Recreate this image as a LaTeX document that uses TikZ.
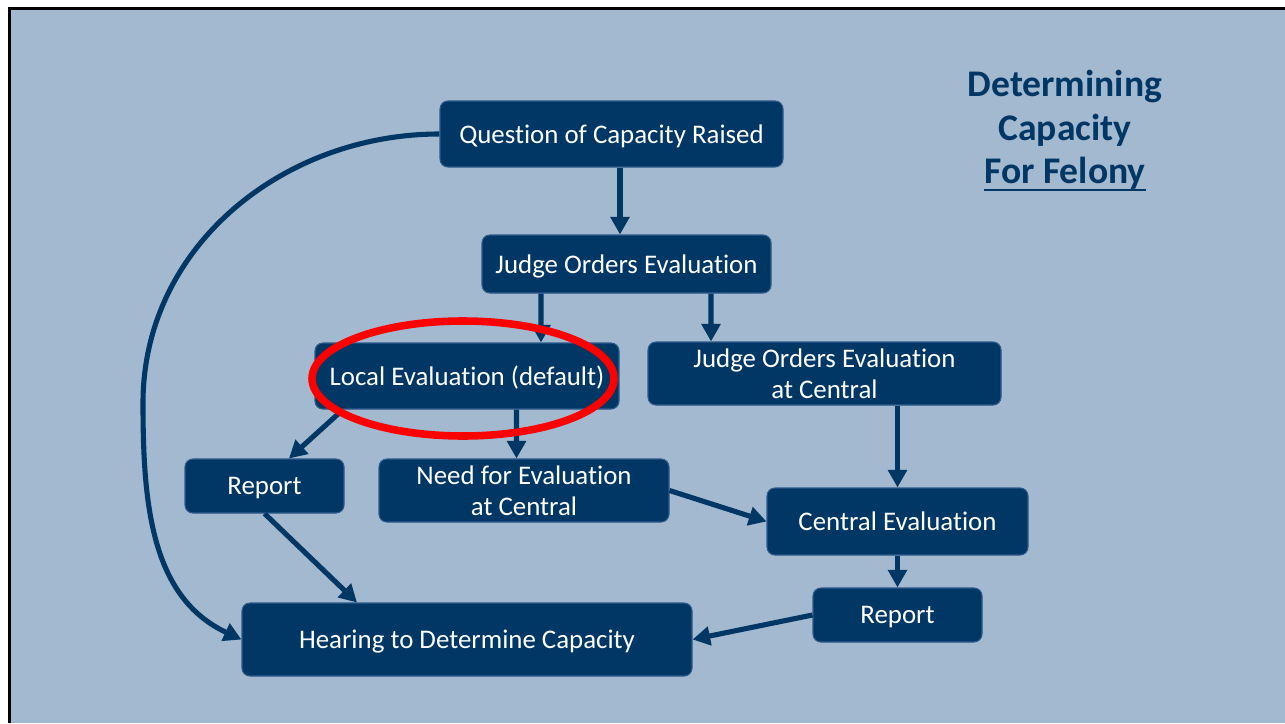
\documentclass[tikz,border=0pt]{standalone}
\usepackage{fontspec}
\setmainfont{Carlito}[Ligatures=NoCommon]
\usetikzlibrary{arrows.meta}
\definecolor{slate}{HTML}{A3B9D0}
\definecolor{navy}{HTML}{003764}
\definecolor{navyedge}{HTML}{2E5A8C}

\tikzset{
  box/.style={draw=navyedge, line width=0.6pt, fill=navy, text=white, rounded corners=4.5pt,
    align=center, inner sep=0pt, text depth=0pt, font=\fontsize{15.3}{17.6}\selectfont},
  flow/.style={draw=navy, line width=2.9pt, -{Triangle[length=10pt,width=10.5pt]}},
  title/.style={text=navy, anchor=base, inner sep=0pt, font=\fontsize{21.4}{24}\selectfont\bfseries}
}

\begin{document}
\begin{tikzpicture}

\useasboundingbox (0,0) rectangle (25.7,-14.46);
\fill[white] (0,0) rectangle (25.7,-14.46);
\fill[slate] (0.19,-0.17) rectangle (25.7,-14.46);
\draw[line width=1.5pt] (0.19,-14.46) -- (0.19,-0.17) -- (25.7,-0.17);

\node[title] (t1) at (21.3,-1.92) {Determining};
\node[title] (t2) at (21.3,-2.80) {Capacity};
\node[title] (t3) at (21.3,-3.66) {For Felony};
\draw[navy, line width=1.6pt] ([yshift=-0.14cm]t3.base west) -- ([yshift=-0.14cm]t3.base east);

\foreach \n/\x/\y/\w/\h/\t in {
	q/12.23/-2.68/6.86/1.32/{Question of Capacity Raised},
	joe/12.53/-5.28/5.78/1.16/{Judge Orders Evaluation},
	loc/9.34/-7.52/6.08/1.32/{Local Evaluation (default)},
	joec/16.49/-7.47/7.06/1.26/{Judge Orders Evaluation\\at Central},
	repl/5.29/-9.72/3.18/1.08/{Report},
	need/10.48/-9.81/5.80/1.26/{Need for Evaluation\\at Central},
	cev/17.95/-10.43/5.22/1.34/{Central Evaluation},
	repr/17.95/-12.30/3.38/1.08/{Report},
	hear/9.34/-12.79/9.00/1.46/{Hearing to Determine Capacity}}  {
	\node[box, minimum width=\w cm, minimum height=\h cm] (\n) at (\x,\y) {\t};
}

\draw[flow] ([xshift=0.17cm]q.south) -- ([xshift=-0.13cm]joe.north);
\draw[flow] ([xshift=-1.71cm]joe.south) -- ([xshift=1.48cm]loc.north);
\draw[flow] ([xshift=1.69cm]joe.south) -- ([xshift=-2.27cm]joec.north);
\draw[flow] ([xshift=-2.48cm]loc.south) -- ([xshift=0.49cm]repl.north);
\draw[flow] ([xshift=0.99cm]loc.south) -- ([xshift=-0.15cm]need.north);
\draw[flow] (need.east) -- (cev.west);
\draw[flow] (joec.south -| cev.north) -- (cev.north);
\draw[flow] (cev.south) -- (repr.north);
\draw[flow] (repr.west) -- (hear.east);
\draw[flow] (repl.south) -- ([xshift=-2.2cm]hear.north);

\coordinate (bend) at (2.86,-8.06);
\draw[flow] (q.west) to[out=180,in=90] (bend) to[out=-90,in=155] (hear.west);

\draw[red, line width=4.3pt] (9.26,-7.57) ellipse (3.02 and 1.15);

\end{tikzpicture}
\end{document}
